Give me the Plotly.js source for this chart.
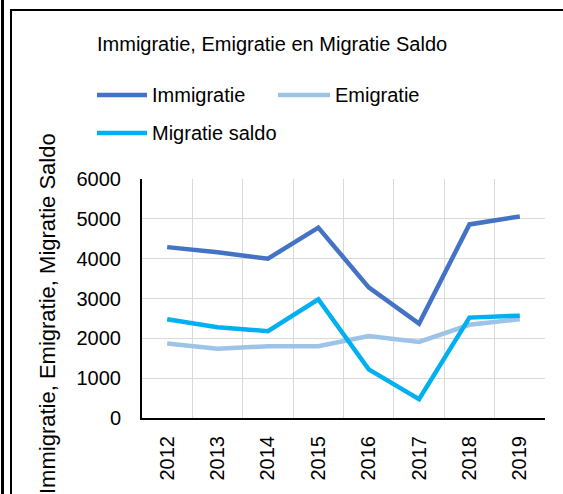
<!DOCTYPE html>
<html>
<head>
<meta charset="utf-8">
<script src="https://cdn.plot.ly/plotly-3.0.1.min.js"></script>
<style>
  html, body { margin: 0; padding: 0; background: #fff; overflow: hidden; }
  #wrap { position: relative; width: 563px; height: 494px; overflow: hidden; }
  #chart { position: absolute; left: 0; top: 0; width: 563px; height: 494px; }
  #frameOuter { position: absolute; left: 1px; top: 0; width: 3px; height: 494px; background: #000; }
  #frameLeft { position: absolute; left: 10px; top: 9px; width: 2px; height: 485px; background: #000; }
  #frameTop { position: absolute; left: 10px; top: 9px; width: 553px; height: 2px; background: #000; }
</style>
</head>
<body>
<div id="wrap">
  <div id="chart"></div>
  <div id="frameOuter"></div>
  <div id="frameLeft"></div>
  <div id="frameTop"></div>
</div>
<script>
const years = ["2012", "2013", "2014", "2015", "2016", "2017", "2018", "2019"];
const immigratie = [4290, 4160, 4000, 4780, 3280, 2370, 4860, 5060];
const emigratie = [1870, 1740, 1800, 1800, 2060, 1910, 2340, 2480];
const migratieSaldo = [2480, 2280, 2180, 2980, 1220, 470, 2520, 2570];
const yTicks = [0, 1000, 2000, 3000, 4000, 5000, 6000];

const seriesNames = ["Immigratie", "Emigratie", "Migratie saldo"];
const seriesColors = ["#4472C4", "#9DC3E6", "#00B0F0"];
const seriesValues = [immigratie, emigratie, migratieSaldo];

const W = 563, H = 494;
const L = 142, R = 545, T = 179, B = 418;
const px2x = p => (p - L) / (R - L);
const py2y = p => (B - p) / (B - T);

const FONT = "Liberation Sans, Arial, sans-serif";

const traces = seriesNames.map((n, i) => ({
  type: "scatter",
  mode: "lines",
  name: n,
  x: years,
  y: seriesValues[i],
  line: { color: seriesColors[i], width: 4.5 },
  showlegend: false,
  hoverinfo: "skip"
}));

// custom legend
const legendItems = [
  { x0: 97, x1: 147, tx: 150, y: 95 },
  { x0: 278, x1: 330, tx: 333, y: 95 },
  { x0: 97, x1: 147, tx: 150, y: 133 }
];
const shapes = [];
const annotations = [];
legendItems.forEach((it, i) => {
  shapes.push({
    type: "line", xref: "paper", yref: "paper",
    x0: px2x(it.x0), x1: px2x(it.x1), y0: py2y(it.y), y1: py2y(it.y),
    line: { color: seriesColors[i], width: 4.5 }
  });
  annotations.push({
    xref: "paper", yref: "paper", x: px2x(it.tx), y: py2y(it.y),
    xanchor: "left", yanchor: "middle", showarrow: false,
    text: seriesNames[i], font: { family: FONT, size: 20, color: "#000" }
  });
});

// title
annotations.push({
  xref: "paper", yref: "paper", x: px2x(271.5), y: py2y(44),
  xanchor: "center", yanchor: "middle", showarrow: false,
  text: "Immigratie, Emigratie en Migratie Saldo",
  font: { family: FONT, size: 20, color: "#000" }
});
// y-axis title
annotations.push({
  xref: "paper", yref: "paper", x: px2x(47), y: py2y(314),
  xanchor: "center", yanchor: "middle", showarrow: false, textangle: -90,
  text: "Immigratie, Emigratie, Migratie Saldo",
  font: { family: FONT, size: 22, color: "#000" }
});

const layout = {
  width: W, height: H,
  margin: { l: L, r: W - R, t: T, b: H - B, pad: 0 },
  paper_bgcolor: "#fff", plot_bgcolor: "#fff",
  showlegend: false,
  font: { family: FONT, size: 20, color: "#000" },
  xaxis: {
    type: "category",
    range: [-0.5, 7.5],
    tickson: "boundaries",
    tickangle: -90,
    ticks: "",
    showgrid: true, gridcolor: "#D9D9D9", gridwidth: 1,
    showline: true, linecolor: "#000", linewidth: 2,
    zeroline: false,
    tickfont: { family: FONT, size: 20, color: "#000" },
    ticklabelstandoff: 8,
    fixedrange: true
  },
  yaxis: {
    range: [0, 6000],
    tickvals: yTicks,
    ticktext: yTicks.map(String),
    ticks: "",
    showgrid: true, gridcolor: "#D9D9D9", gridwidth: 1,
    showline: true, linecolor: "#000", linewidth: 2,
    zeroline: false,
    tickfont: { family: FONT, size: 20, color: "#000" },
    ticklabelstandoff: 15,
    fixedrange: true
  },
  shapes: shapes,
  annotations: annotations
};

Plotly.newPlot("chart", traces, layout, { staticPlot: true, displayModeBar: false });
</script>
</body>
</html>
